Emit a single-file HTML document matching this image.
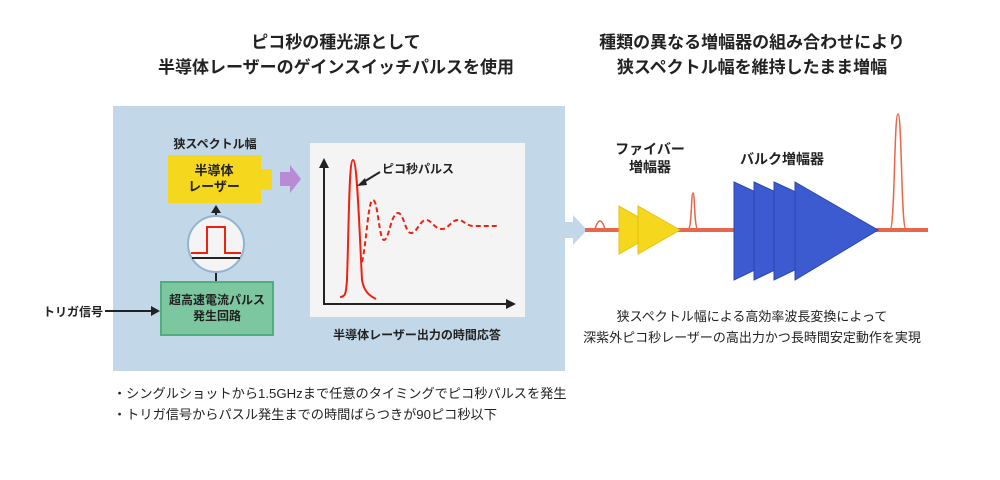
<!DOCTYPE html>
<html><head><meta charset="utf-8"><style>
body{margin:0;background:#fff;}
.w{position:relative;width:1000px;height:480px;overflow:hidden;font-family:"Liberation Sans","Noto Sans CJK JP",sans-serif;color:#222;}
.t{position:absolute;white-space:nowrap;}
.c{transform:translateX(-50%);text-align:center;}
.h{font-size:17px;font-weight:bold;line-height:25px;}
</style></head><body><div class="w">
<div class="t c h" style="left:336px;top:30px;">ピコ秒の種光源として<br>半導体レーザーのゲインスイッチパルスを使用</div>
<div class="t c h" style="left:752px;top:30px;">種類の異なる増幅器の組み合わせにより<br>狭スペクトル幅を維持したまま増幅</div>
<svg width="1000" height="480" style="position:absolute;left:0;top:0">
<rect x="113" y="106" width="452" height="265" fill="#c2d7e7"/>
<polygon points="565,222 573,222 573,215 587,230 573,245 573,238 565,238" fill="#c2d7e7"/>
<rect x="310" y="143" width="215" height="174" fill="#f4f4f4"/>
<rect x="168" y="155" width="93" height="48" fill="#f5d81d"/>
<rect x="260" y="169" width="12" height="21" fill="#f5d81d"/>
<polygon points="280,172 290,172 290,165 301,179 290,193 290,186 280,186" fill="#b88bd4"/>
<line x1="216" y1="216" x2="216" y2="210" stroke="#222" stroke-width="2"/>
<polygon points="216,205 211,213 221,213" fill="#222"/>
<line x1="216" y1="272" x2="216" y2="281" stroke="#222" stroke-width="2"/>
<circle cx="216" cy="244" r="28" fill="#f4f4f4" stroke="#93b4cf" stroke-width="2"/>
<polyline points="191,253 207,253 207,227 225,227 225,253 241,253" fill="none" stroke="#e21" stroke-width="2"/>
<line x1="192" y1="258" x2="240" y2="258" stroke="#222" stroke-width="2"/>
<rect x="161" y="282" width="112" height="53" fill="#7cc6a0" stroke="#4fae7c" stroke-width="2"/>
<line x1="105" y1="311" x2="152" y2="311" stroke="#222" stroke-width="2"/>
<polygon points="160,311 151,306 151,316" fill="#222"/>
<line x1="324" y1="304" x2="324" y2="165" stroke="#222" stroke-width="2"/>
<polygon points="324,158 319,168 329,168" fill="#222"/>
<line x1="323" y1="304" x2="508" y2="304" stroke="#222" stroke-width="2"/>
<polygon points="516,304 506,299 506,309" fill="#222"/>
<path d="M340,297 C346,297 346,292 347,280 C349,220 349,160 353,160 C357,160 359,220 362,280 C364,292 370,296 376,299" fill="none" stroke="#e21" stroke-width="2"/>
<path d="M362,262 C367,240 368,200 373,200 C378,200 379,240 384,240 C389,240 391,213 398,213 C404,213 405,233 411,233 C417,233 420,220 426,220 C432,220 434,229 442,229 C449,229 451,220 458,220 C464,220 466,226 474,226 L498,226" fill="none" stroke="#e21" stroke-width="2" stroke-dasharray="5,3"/>
<line x1="380" y1="172" x2="362" y2="183" stroke="#222" stroke-width="2"/>
<polygon points="357,186 365,178 367,185" fill="#222"/>
<line x1="585" y1="230" x2="928" y2="230" stroke="#e8674a" stroke-width="4"/>
<path d="M595,229 Q600,213 605,229" fill="none" stroke="#e8674a" stroke-width="1.5"/>
<path d="M688,229 C692,229 691,193 693,193 C695,193 694,229 698,229" fill="none" stroke="#e8674a" stroke-width="1.5"/>
<path d="M890,229 C895,229 894,114 898,114 C902,114 901,229 906,229" fill="none" stroke="#e8674a" stroke-width="1.5"/>
<polygon points="619,206 661,230 619,254" fill="#f5d81d" stroke="#e8c010" stroke-width="1"/>
<polygon points="638,206 680,230 638,254" fill="#f5d81d" stroke="#e8c010" stroke-width="1"/>
<polygon points="734,182 838,230 734,280" fill="#3d5bd0" stroke="#2c46ae" stroke-width="1"/>
<polygon points="754,182 858,230 754,280" fill="#3d5bd0" stroke="#2c46ae" stroke-width="1"/>
<polygon points="774,182 878,230 774,280" fill="#3d5bd0" stroke="#2c46ae" stroke-width="1"/>
<polygon points="795,182 878,230 795,280" fill="#3d5bd0" stroke="#2c46ae" stroke-width="1"/>
</svg>
<div class="t c" style="left:215px;top:135px;font-size:12px;font-weight:bold;">狭スペクトル幅</div>
<div class="t c" style="left:214px;top:163px;font-size:13px;font-weight:bold;line-height:16px;">半導体<br>レーザー</div>
<div class="t c" style="left:217px;top:292px;font-size:12px;font-weight:bold;line-height:16px;">超高速電流パルス<br>発生回路</div>
<div class="t" style="left:43px;top:303px;font-size:12px;font-weight:bold;">トリガ信号</div>
<div class="t" style="left:382px;top:160px;font-size:12px;font-weight:bold;">ピコ秒パルス</div>
<div class="t c" style="left:417px;top:326px;font-size:12px;font-weight:bold;">半導体レーザー出力の時間応答</div>
<div class="t c" style="left:650px;top:140px;font-size:14px;font-weight:bold;line-height:18px;">ファイバー<br>増幅器</div>
<div class="t c" style="left:782px;top:149px;font-size:14px;font-weight:bold;">バルク増幅器</div>
<div class="t c" style="left:752px;top:306px;font-size:13px;line-height:21px;">狭スペクトル幅による高効率波長変換によって<br>深紫外ピコ秒レーザーの高出力かつ長時間安定動作を実現</div>
<div class="t" style="left:113px;top:383px;font-size:13.2px;line-height:21px;">・シングルショットから1.5GHzまで任意のタイミングでピコ秒パルスを発生<br>・トリガ信号からパスル発生までの時間ばらつきが90ピコ秒以下</div>
</div></body></html>
